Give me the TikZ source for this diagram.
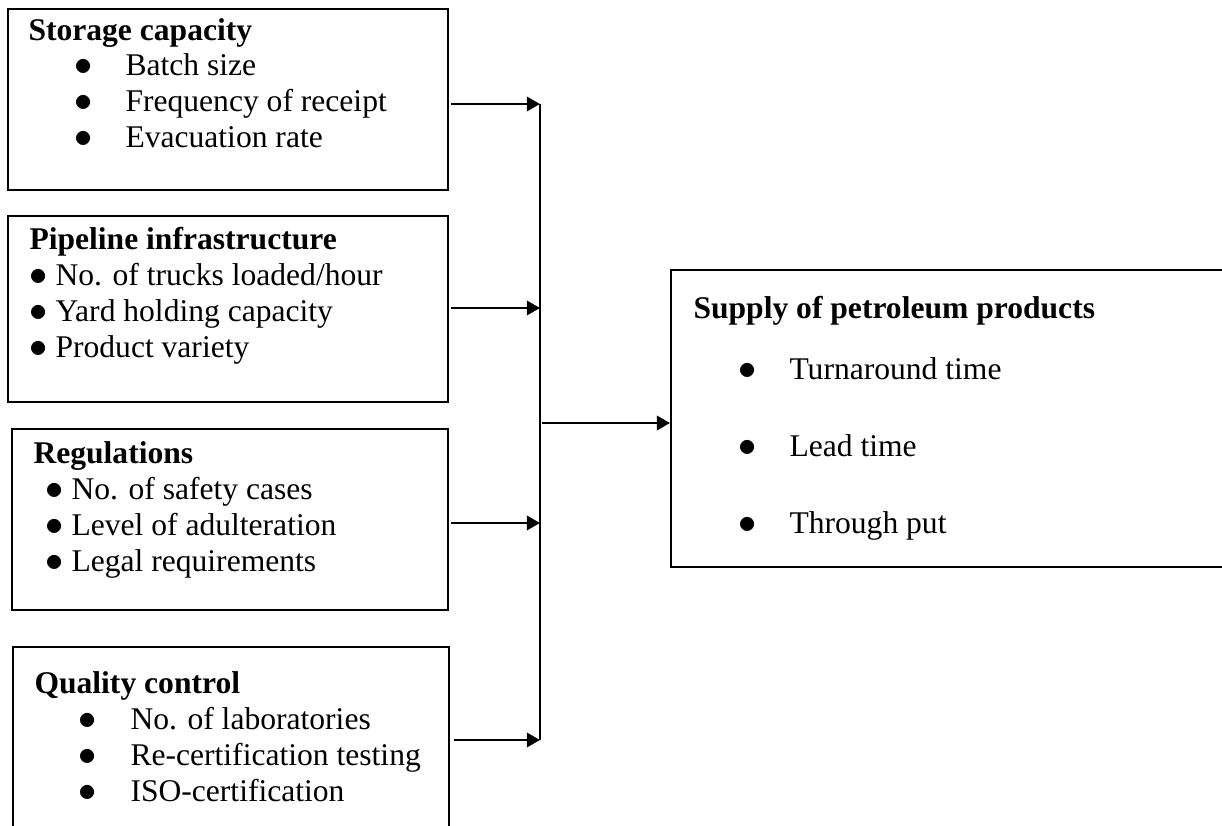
\documentclass[tikz,border=0pt]{standalone}
\usepackage{fontspec}
\setmainfont{Liberation Serif}
\usetikzlibrary{calc}
\usetikzlibrary{fit}
\usetikzlibrary{arrows.meta}
\newcommand{\blt}{\scalebox{1.15}{$\bullet$}}

\begin{document}
\begin{tikzpicture}[x=0.38pt,y=-0.38pt,
    every node/.style={font=\fontsize{12pt}{14pt}\selectfont, inner sep=0pt},
    box/.style={draw, line width=0.75pt, inner sep=0pt},
    line/.style={anchor=base west, text height=8pt, text depth=2pt},
    head/.style={line, font=\fontsize{12pt}{14pt}\selectfont\bfseries},
    item/.style={line},
    dot/.style={anchor=base, text height=6pt, text depth=0pt},
    link/.style={line width=1.1pt, -{Triangle[length=5pt,width=5.4pt]}},
    bus/.style={line width=1.1pt}]

  \useasboundingbox (0,0) rectangle (1222,826);
  \clip (0,0) rectangle (1222,826);

  % defines
  \pgfmathsetmacro\BusX{540}   % x of the collecting line
  \pgfmathsetmacro\LineSkip{36} % baseline distance in the boxes

  % draw the four factor boxes
  \node[box, fit={(8,9) (448,190)}] (SC) {};
  \node[box, fit={(8,216) (448,402)}] (PI) {};
  \node[box, fit={(12,429) (448,610)}] (RG) {};
  \node[box, fit={(12.7,647) (449,840)}] (QC) {};

  % storage capacity
  \node[head] (SCh) at (28,41) {Storage capacity};
  \foreach \t [count=\i, evaluate=\i as \yy using 40+\LineSkip*\i] in {Batch size, Frequency of receipt, Evacuation rate} {
    \node[dot] (SCd\i) at (84,\yy) {\blt};
    \node[item] (SCi\i) at (125,\yy) {\t};
  }

  % pipeline infrastructure
  \node[head] (PIh) at (29,249) {Pipeline infrastructure};
  \foreach \t [count=\i, evaluate=\i as \yy using 249+\LineSkip*\i] in {No. of trucks loaded/hour, Yard holding capacity, Product variety} {
    \node[item] (PIi\i) at (29,\yy) {\blt\ \t};
  }

  % regulations
  \node[head] (RGh) at (33,463) {Regulations};
  \foreach \t [count=\i, evaluate=\i as \yy using 463+\LineSkip*\i] in {No. of safety cases, Level of adulteration, Legal requirements} {
    \node[item] (RGi\i) at (45,\yy) {\blt\ \t};
  }

  % quality control
  \node[head] (QCh) at (34,693) {Quality control};
  \foreach \t [count=\i, evaluate=\i as \yy using 693+\LineSkip*\i] in {No. of laboratories, Re-certification testing, ISO-certification} {
    \node[dot] (QCd\i) at (88,\yy) {\blt};
    \node[item] (QCi\i) at (130,\yy) {\t};
  }

  % draw the result box
  \node[box, fit={(671,270) (1224,567)}] (SP) {};
  \node[head] (SPh) at (693,318) {Supply of petroleum products};
  \foreach \t [count=\i, evaluate=\i as \yy using 302+77*\i] in {Turnaround time, Lead time, Through put} {
    \node[dot] (SPd\i) at (748,\yy) {\blt};
    \node[item] (SPi\i) at (789,\yy) {\t};
  }

  % draw connection lines to the bus and to the result
  \coordinate (j1) at (\BusX,104);
  \coordinate (j2) at (\BusX,308);
  \coordinate (j3) at (\BusX,523);
  \coordinate (j4) at (\BusX,740);
  \coordinate (jm) at (\BusX+2,423);
  \draw[bus] (j1) -- (j4);
  \draw[link] ($(SC.east |- j1)+(2,0)$) -- (j1);
  \draw[link] ($(PI.east |- j2)+(2,0)$) -- (j2);
  \draw[link] ($(RG.east |- j3)+(2,0)$) -- (j3);
  \draw[link] ($(QC.east |- j4)+(4,0)$) -- (j4);
  \draw[link] (jm) -- (SP.west |- jm);

\end{tikzpicture}
\end{document}
